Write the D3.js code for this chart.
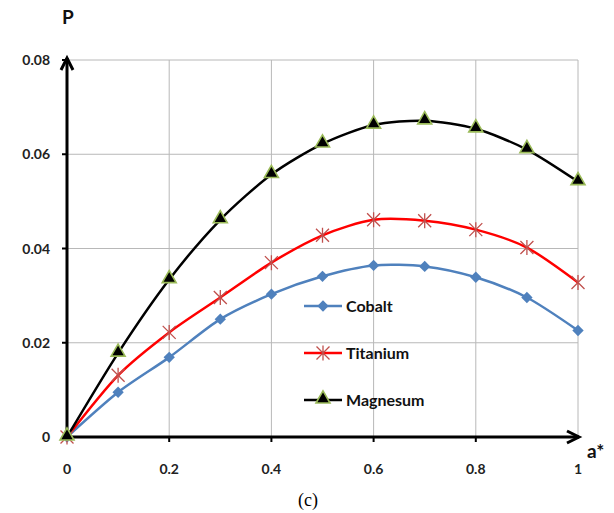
<!DOCTYPE html>
<html>
<head>
<style>
  body { margin: 0; background: #fff; }
  svg { display: block; }
  .tick-label { font-family: Lato, "Liberation Sans", sans-serif; font-weight: bold; font-size: 14px; fill: #222; }
  .legend { font-family: Lato, "Liberation Sans", sans-serif; font-weight: bold; font-size: 16px; fill: #111; }
</style>
</head>
<body>
<svg width="614" height="513"></svg>
<script src="https://d3js.org/d3.v7.min.js"></script>
<script>
// values
var aValues = [0, 0.1, 0.2, 0.3, 0.4, 0.5, 0.6, 0.7, 0.8, 0.9, 1];
var cobalt    = [0, 0.0095, 0.0169, 0.0250, 0.0303, 0.0341, 0.0364, 0.0362, 0.0339, 0.0296, 0.0226];
var titanium  = [0, 0.0131, 0.0222, 0.0296, 0.0370, 0.0428, 0.0461, 0.0459, 0.0440, 0.0402, 0.0328];
var magnesum  = [0, 0.0178, 0.0334, 0.0461, 0.0557, 0.0622, 0.0662, 0.0671, 0.0654, 0.0610, 0.0542];
var xTicks = [0, 0.2, 0.4, 0.6, 0.8, 1];
var yTicks = [0, 0.02, 0.04, 0.06, 0.08];
var seriesNames = ["Cobalt", "Titanium", "Magnesum"];

var svg = d3.select("svg");
var x = d3.scaleLinear().domain([0, 1]).range([67, 578]);
var y = d3.scaleLinear().domain([0, 0.08]).range([437, 60]);

// grid
svg.append("g").selectAll("line").data(xTicks.slice(1)).enter().append("line")
  .attr("x1", d => x(d)).attr("x2", d => x(d)).attr("y1", y(0.08)).attr("y2", y(0))
  .attr("stroke", "#b8b8b8").attr("stroke-width", 1);
svg.append("g").selectAll("line").data(yTicks.slice(1)).enter().append("line")
  .attr("x1", x(0)).attr("x2", x(1)).attr("y1", d => y(d)).attr("y2", d => y(d))
  .attr("stroke", "#b8b8b8").attr("stroke-width", 1);

// axes with arrow heads
var ax = svg.append("g").attr("stroke", "#000").attr("stroke-width", 3).attr("fill", "none");
ax.append("line").attr("x1", x(0)).attr("x2", x(0)).attr("y1", y(0) + 1).attr("y2", y(0.08) - 2);
ax.append("path").attr("d", "M" + (x(0) - 6) + "," + (y(0.08) + 10) + "L" + x(0) + "," + (y(0.08) - 2) + "L" + (x(0) + 6) + "," + (y(0.08) + 10));
ax.append("line").attr("x1", x(0) - 1).attr("x2", x(1) + 1).attr("y1", y(0)).attr("y2", y(0));
ax.append("path").attr("d", "M" + (x(1) - 11) + "," + (y(0) - 6) + "L" + (x(1) + 1) + "," + y(0) + "L" + (x(1) - 11) + "," + (y(0) + 6));
svg.append("g").selectAll("line").data(xTicks.slice(1, -1)).enter().append("line")
  .attr("x1", d => x(d)).attr("x2", d => x(d)).attr("y1", y(0)).attr("y2", y(0) + 5)
  .attr("stroke", "#000").attr("stroke-width", 2);
svg.append("g").selectAll("line").data(yTicks.slice(1)).enter().append("line")
  .attr("x1", x(0) - 5).attr("x2", x(0)).attr("y1", d => y(d)).attr("y2", d => y(d))
  .attr("stroke", "#000").attr("stroke-width", 2);

// tick labels
svg.append("g").selectAll("text").data(xTicks).enter().append("text")
  .attr("class", "tick-label").attr("x", d => x(d)).attr("y", 474).attr("text-anchor", "middle")
  .text(d => d3.format("")(d));
svg.append("g").selectAll("text").data(yTicks).enter().append("text")
  .attr("class", "tick-label").attr("x", 50).attr("y", d => y(d) + 5).attr("text-anchor", "end")
  .text(d => d === 0 ? "0" : d.toFixed(2));

svg.append("text").attr("x", 62).attr("y", 24).attr("class", "legend").style("font-size", "19px").text("P");
svg.append("text").attr("x", 587).attr("y", 458).attr("class", "legend").style("font-size", "19px").text("a*");
svg.append("text").attr("x", 308).attr("y", 506).attr("text-anchor", "middle")
  .style("font-family", "'Liberation Serif', serif").style("font-size", "18px").text("(c)");

// series
var seriesData = [cobalt, titanium, magnesum];
var lineColors = ["#4f81bd", "#ff0000", "#000000"];
var line = d3.line().curve(d3.curveCardinal.tension(0.2)).x((d, i) => x(aValues[i])).y(d => y(d));

function drawMarker(g, k, cx, cy) {
  if (k === 0) {
    g.append("path").attr("d", d3.symbol().type(d3.symbolSquare).size(64)())
      .attr("transform", "translate(" + cx + "," + cy + ") rotate(45)").attr("fill", "#4f81bd");
  } else if (k === 1) {
    var r = 6.5;
    var p = "M" + (cx - r) + "," + (cy - r) + "L" + (cx + r) + "," + (cy + r) +
            "M" + (cx - r) + "," + (cy + r) + "L" + (cx + r) + "," + (cy - r) +
            "M" + cx + "," + (cy - r - 1) + "L" + cx + "," + (cy + r + 1);
    g.append("path").attr("d", p).attr("stroke", "#c0504d").attr("stroke-width", 1.3).attr("fill", "none");
  } else {
    g.append("path").attr("d", d3.symbol().type(d3.symbolTriangle).size(85)())
      .attr("transform", "translate(" + cx + "," + (cy - 1) + ")")
      .attr("fill", "#000").attr("stroke", "#9bbb59").attr("stroke-width", 1.6);
  }
}

seriesData.forEach(function (vals, k) {
  svg.append("path").datum(vals).attr("fill", "none").attr("stroke", lineColors[k])
    .attr("stroke-width", 2.5).attr("d", line);
});
seriesData.forEach(function (vals, k) {
  var g = svg.append("g");
  vals.forEach(function (v, i) { drawMarker(g, k, x(aValues[i]), y(v)); });
});

// legend
var legendY = [306, 353, 400];
seriesNames.forEach(function (name, k) {
  var g = svg.append("g");
  g.append("line").attr("x1", 304).attr("x2", 342).attr("y1", legendY[k]).attr("y2", legendY[k])
    .attr("stroke", lineColors[k]).attr("stroke-width", 2.5);
  drawMarker(g, k, 323, legendY[k]);
  g.append("text").attr("class", "legend").attr("x", 346).attr("y", legendY[k] + 6).text(name);
});
</script>
</body>
</html>
